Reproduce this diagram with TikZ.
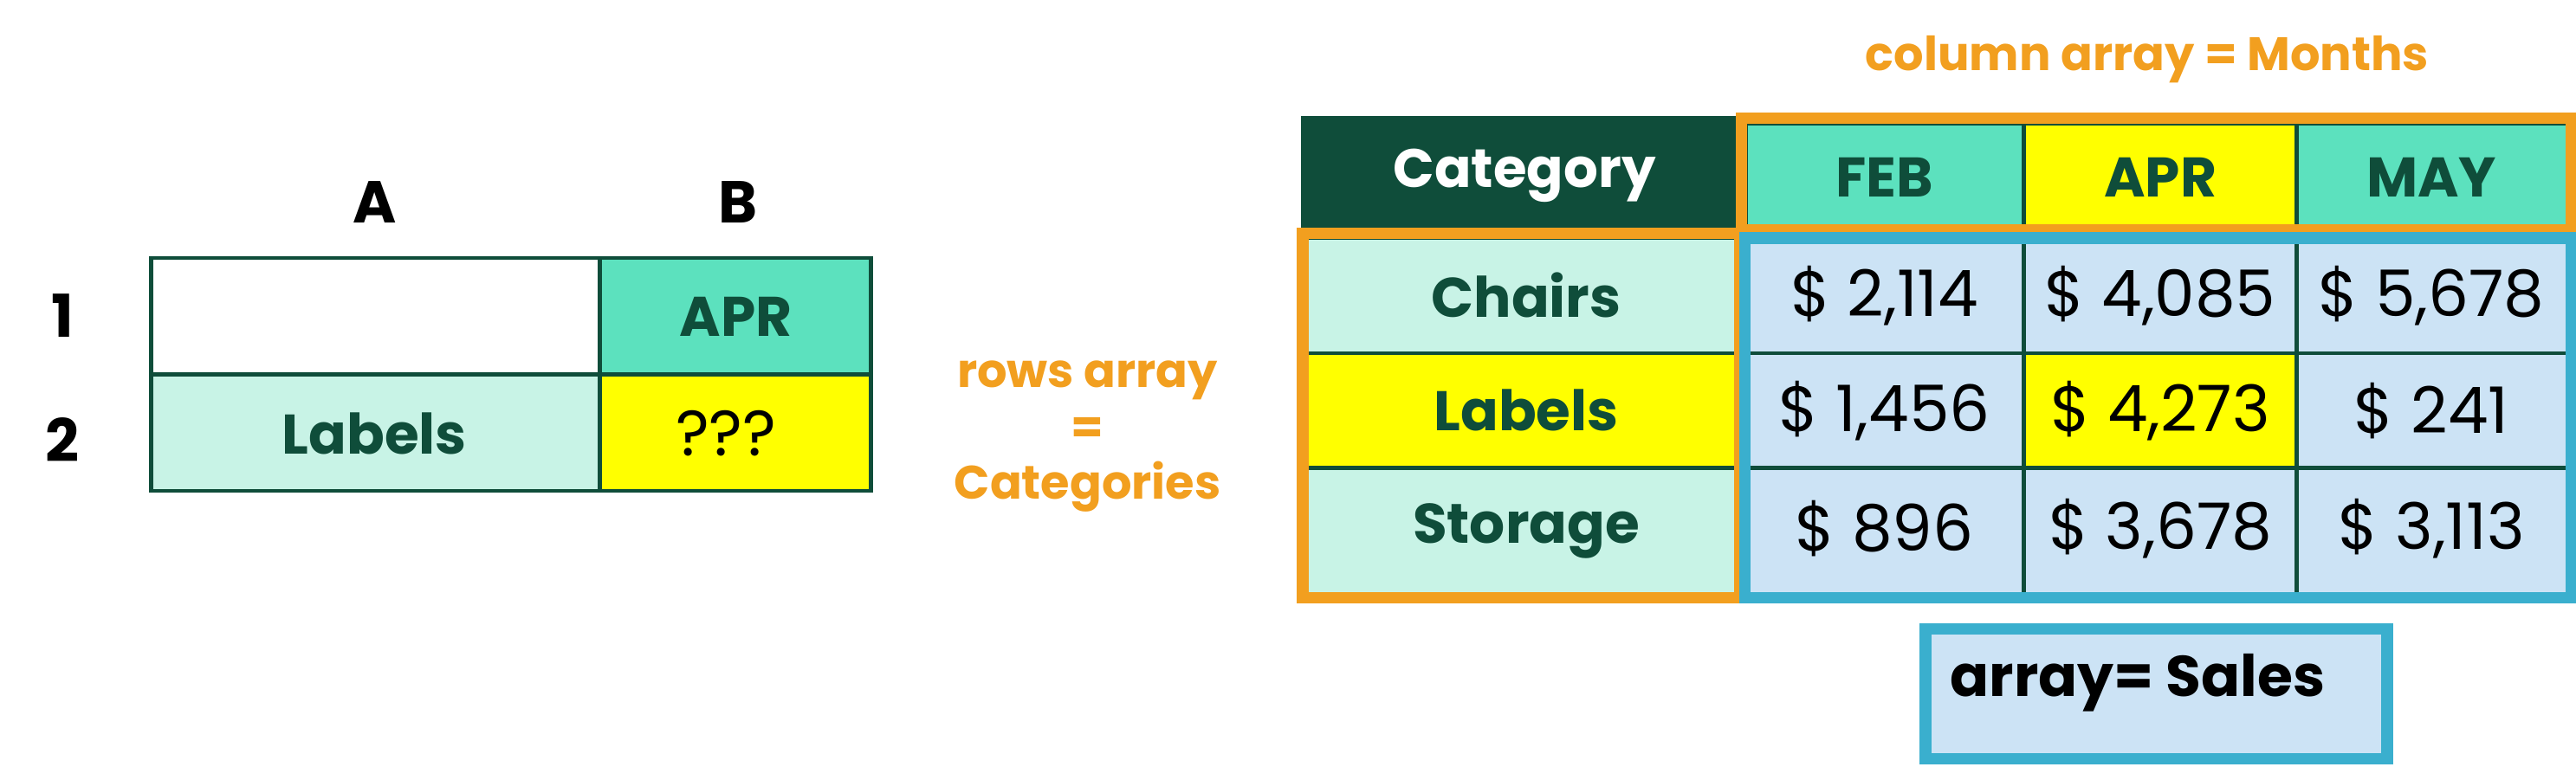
\documentclass[tikz,border=0pt]{standalone}
\usepackage{fontspec}
\setmainfont{Poppins}
\definecolor{dg}{HTML}{0F4D3A}
\definecolor{mint}{HTML}{5CE1BE}
\definecolor{lmint}{HTML}{C8F3E6}
\definecolor{yel}{HTML}{FFFF00}
\definecolor{lblue}{HTML}{CCE3F5}
\definecolor{org}{HTML}{F29F1F}
\definecolor{blu}{HTML}{3AAFCE}
\begin{document}
\begin{tikzpicture}[x=0.5pt,y=-0.5pt,
 cellb/.style={draw=dg,line width=1.2pt,fill=#1},
 bt/.style={font=\bfseries\fontsize{17}{20}\selectfont,text=dg},
 rt/.style={font=\fontsize{19.5}{22}\selectfont,text=black},
 ot/.style={font=\bfseries\fontsize{14.3}{17}\selectfont,text=org,align=center},
 hd/.style={font=\bfseries\fontsize{18}{20}\selectfont,text=black}]
\useasboundingbox (0,0) rectangle (1568,467);
% left table
\draw[cellb=white] (92,157) rectangle (365,228);
\draw[cellb=mint] (365,157) rectangle (530,228);
\draw[cellb=lmint] (92,228) rectangle (365,299);
\draw[cellb=yel] (365,228) rectangle (530,299);
\node[hd] (hA) at (228,123) {A};
\node[hd] (hB) at (449,123) {B};
\node[hd] (r1) at (38,192) {1};
\node[hd] (r2) at (38,268) {2};
\node[bt] (lapr) at (448,193) {APR};
\node[bt] (llab) at (228,264) {Labels};
\node[rt] (lq) at (442,264) {???};
\node[ot] (rows) at (662,266) {rows array\\=\\Categories};
\node[ot] (colarr) at (1307,36) {column array = Months};
% right table header
\draw[cellb=dg] (793,72) rectangle (1057,140);
\node[font=\bfseries\fontsize{16.5}{18}\selectfont,text=white] (cat) at (928,107) {Category};
\draw[cellb=mint] (1063,75) rectangle (1232,140);
\draw[cellb=yel] (1232,75) rectangle (1398,140);
\draw[cellb=mint] (1398,75) rectangle (1563,140);
\node[bt] (feb) at (1147,108) {FEB};
\node[bt] (apr) at (1315,108) {APR};
\node[bt] (may) at (1480,108) {MAY};
\draw[org,line width=3.5pt] (1060,72) rectangle (1565,140);
% rows
\foreach \y/\yy/\c/\t [count=\i] in {145/215/lmint/Chairs,215/285/yel/Labels,285/362/lmint/Storage}{
 \draw[cellb=\c] (793,\y) rectangle (1057,\yy);
 \node[bt] (c\i) at (929,{(\y+\yy)/2}) {\t};
}
\foreach \y/\yy [count=\i] in {145/215,215/285,285/362}{
 \draw[cellb=lblue] (1063,\y) rectangle (1232,\yy);
 \draw[cellb=lblue] (1232,\y) rectangle (1398,\yy);
 \draw[cellb=lblue] (1398,\y) rectangle (1563,\yy);
}
\draw[cellb=yel] (1232,215) rectangle (1398,285);
\node[rt] (d11) at (1147,180) {\$ 2,114};
\node[rt] (d12) at (1315,180) {\$ 4,085};
\node[rt] (d13) at (1480,180) {\$ 5,678};
\node[rt] (d21) at (1147,250) {\$ 1,456};
\node[rt] (d22) at (1315,250) {\$ 4,273};
\node[rt] (d23) at (1480,250) {\$ 241};
\node[rt] (d31) at (1147,322) {\$ 896};
\node[rt] (d32) at (1315,322) {\$ 3,678};
\node[rt] (d33) at (1480,322) {\$ 3,113};
\draw[org,line width=3.5pt] (793,142) rectangle (1059,364);
\draw[blu,line width=3.5pt] (1062,145) rectangle (1565,364);
% sales box
\draw[fill=lblue,draw=blu,line width=3.5pt] (1172,383) rectangle (1453,462);
\node[font=\bfseries\fontsize{17.5}{20}\selectfont,text=black,anchor=west] (sales) at (1180,416) {array= Sales};
\end{tikzpicture}
\end{document}
